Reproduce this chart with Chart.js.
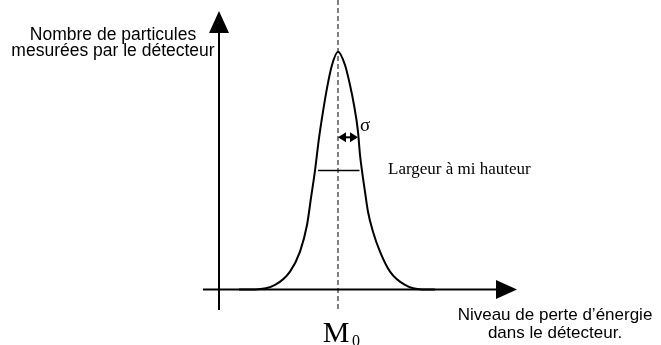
<!DOCTYPE html>
<html lang="fr">
<head>
<meta charset="utf-8">
<title>Perte d'énergie dans le détecteur</title>
<script src="https://cdn.jsdelivr.net/npm/chart.js@4/dist/chart.umd.min.js"></script>
<style>
  html, body { margin: 0; padding: 0; background: #fff; }
  canvas { display: block; }
</style>
</head>
<body>
<canvas id="chart" width="661" height="345"></canvas>
<script>
// Courbe de distribution : niveau de perte d'énergie -> nombre de particules
const energie    = [2.0, 3.6, 5.6, 7.1, 8.1, 8.8, 9.2, 9.6, 10.0, 10.4, 10.8, 11.3, 11.9,
                    12.6, 13.1, 13.5, 13.9, 14.1, 14.3, 14.6, 14.9, 15.4, 16.1, 17.1, 18.6, 20.3, 21.6];
const particules = [0, 0, 1.9, 7.5, 15.9, 27.1, 38.5, 50.0, 63.7, 74.8, 84.7, 94.4, 100,
                    94.4, 86.0, 77.6, 66.4, 56.6, 49.9, 41.1, 32.7, 24.3, 15.9, 7.5, 1.9, 0, 0];

// Valeur la plus probable, écart-type et largeur à mi-hauteur
const M0 = 11.9;
const sigma = 2.0;
const miHauteurX = [9.9, 14.05];
const miHauteurY = [50, 50];

// Textes
const titreY = ['Nombre de particules', 'mesurées par le détecteur'];
const titreX = ['Niveau de perte d\u2019énergie', 'dans le détecteur.'];
const labelLargeur = 'Largeur à mi hauteur';

const courbe = energie.map((e, i) => ({ x: e, y: particules[i] }));
const barre = miHauteurX.map((e, i) => ({ x: e, y: miHauteurY[i] }));

// Axes, flèches, repère M0 et annotations
const diagramme = {
  id: 'diagramme',
  afterDatasetsDraw(chart) {
    const { ctx, scales: { x, y } } = chart;
    const px = v => x.getPixelForValue(v);
    const py = v => y.getPixelForValue(v);
    const x0 = px(0), y0 = py(0), bas = py(-8.6);

    ctx.save();
    ctx.strokeStyle = '#000';
    ctx.fillStyle = '#000';

    // axe vertical + flèche
    ctx.lineWidth = 2;
    ctx.beginPath();
    ctx.moveTo(x0, bas);
    ctx.lineTo(x0, 30);
    ctx.stroke();
    ctx.beginPath();
    ctx.moveTo(x0, 11);
    ctx.lineTo(x0 - 10, 33);
    ctx.lineTo(x0 + 10, 33);
    ctx.closePath();
    ctx.fill();

    // axe horizontal + flèche
    ctx.beginPath();
    ctx.moveTo(px(-1.6), y0);
    ctx.lineTo(px(28), y0);
    ctx.stroke();
    ctx.beginPath();
    ctx.moveTo(px(29.8), y0);
    ctx.lineTo(px(27.7), y0 - 9.5);
    ctx.lineTo(px(27.7), y0 + 9.5);
    ctx.closePath();
    ctx.fill();

    // pointillés sur M0
    const xm = px(M0);
    ctx.lineWidth = 1;
    ctx.setLineDash([5, 3]);
    ctx.beginPath();
    ctx.moveTo(xm, 0);
    ctx.lineTo(xm, bas);
    ctx.stroke();
    ctx.setLineDash([]);

    // flèche double pour sigma
    const ys = py(64), xs = px(M0 + sigma);
    ctx.lineWidth = 2;
    ctx.beginPath();
    ctx.moveTo(xm + 2, ys);
    ctx.lineTo(xs - 2, ys);
    ctx.stroke();
    ctx.beginPath();
    ctx.moveTo(xm, ys);
    ctx.lineTo(xm + 8, ys - 5);
    ctx.lineTo(xm + 8, ys + 5);
    ctx.closePath();
    ctx.moveTo(xs, ys);
    ctx.lineTo(xs - 8, ys - 5);
    ctx.lineTo(xs - 8, ys + 5);
    ctx.closePath();
    ctx.fill();

    // textes
    ctx.textBaseline = 'alphabetic';
    ctx.font = '17.5px "Liberation Sans", Arial, sans-serif';
    ctx.textAlign = 'center';
    ctx.fillText(titreY[0], 113, 39.5);
    ctx.fillText(titreY[1], 113, 55.5);
    ctx.font = '17px "Liberation Sans", Arial, sans-serif';
    ctx.fillText(titreX[0], 555, 320);
    ctx.fillText(titreX[1], 555, 338);

    ctx.textAlign = 'left';
    ctx.font = '17px "Liberation Serif", "Times New Roman", serif';
    ctx.fillText(labelLargeur, 388, 174);
    ctx.font = '19px "Liberation Serif", "Times New Roman", serif';
    ctx.fillText('\u03c3', 360, 131);

    ctx.font = '30px "Liberation Serif", "Times New Roman", serif';
    ctx.textAlign = 'center';
    ctx.fillText('M', xm - 2, 342);
    ctx.font = '16px "Liberation Serif", "Times New Roman", serif';
    ctx.textAlign = 'left';
    ctx.fillText('0', xm + 14, 346);

    ctx.restore();
  }
};

new Chart(document.getElementById('chart'), {
  type: 'scatter',
  data: {
    datasets: [
      {
        data: courbe,
        showLine: true,
        borderColor: '#000',
        borderWidth: 2,
        pointRadius: 0,
        cubicInterpolationMode: 'monotone',
        fill: false
      },
      {
        data: barre,
        showLine: true,
        borderColor: '#000',
        borderWidth: 1.5,
        pointRadius: 0
      }
    ]
  },
  options: {
    responsive: false,
    devicePixelRatio: 1,
    animation: false,
    layout: { padding: 0 },
    plugins: { legend: { display: false }, tooltip: { enabled: false } },
    scales: {
      x: { type: 'linear', display: false, min: -21.9, max: 44.2 },
      y: { type: 'linear', display: false, min: -23.34, max: 121.74 }
    }
  },
  plugins: [diagramme]
});
</script>
</body>
</html>
